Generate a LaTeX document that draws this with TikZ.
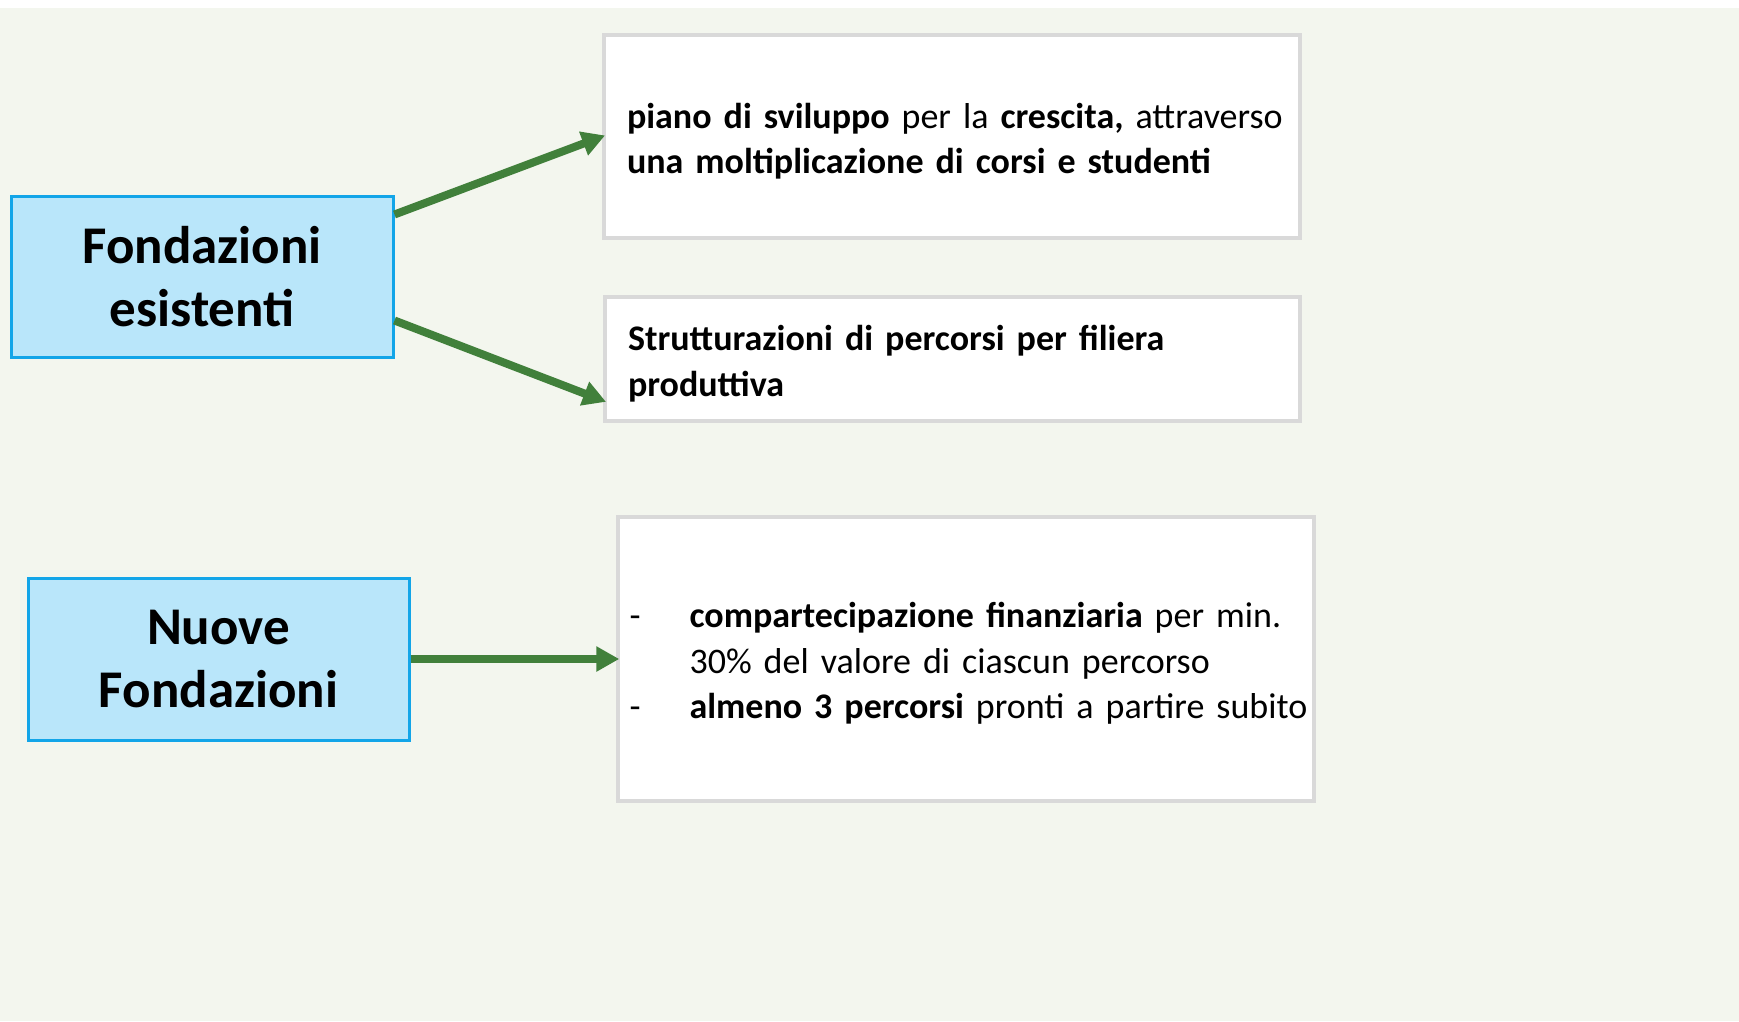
\documentclass[tikz,border=0pt]{standalone}
\usepackage{fontspec}
\setmainfont{Carlito}
\usepackage{tikz}
\usetikzlibrary{calc,arrows.meta}
\definecolor{sfondo}{HTML}{F3F6EE}
\definecolor{azzurro}{HTML}{B9E6FA}
\definecolor{bordoaz}{HTML}{12A5E8}
\definecolor{grigio}{HTML}{D9D9D9}
\definecolor{verde}{HTML}{41803B}
% hogere eerste regel, zodat de tekst iets lager in het vak staat
\newcommand\alza{\rule{0pt}{\dimexpr\fontcharht\font`l+10pt\relax}}
\tikzset{
  % box styles
  % blauw: de twee soorten fondazioni, wit: de uitleg ernaast
  fondbox/.style={rectangle,draw=bordoaz,fill=azzurro,line width=3pt,align=center,
    font=\fontsize{53}{63}\selectfont\bfseries,inner sep=0pt},
  uitleg/.style={rectangle,draw=grigio,fill=white,line width=3.5pt,align=left,
    font=\fontsize{36}{45.5}\selectfont,inner xsep=16pt,inner ysep=0pt,
    execute at begin node={\leftskip=#1\alza}},
  uitleg/.default=7pt,
  pijl/.style={draw=verde,line width=8pt,shorten >=-3pt,-{Triangle[length=23pt,width=24pt]}},
}
\begin{document}
\begin{tikzpicture}[x=1pt,y=-1pt]
  \useasboundingbox (0,0) rectangle (1739,1021);
  \fill[white] (0,0) rectangle (1739,8);
  \fill[sfondo] (0,8) rectangle (1739,1021);
  \node[fondbox,minimum width=382pt,minimum height=161pt] (fe) at (202,276.5)
    {Fondazioni\\esistenti};
  \node[fondbox,minimum width=381pt,minimum height=162pt] (nf) at (218.5,659)
    {Nuove\\Fondazioni};
  \node[uitleg,minimum width=696pt,minimum height=203pt,text width=664pt] (piano) at (952,136.5)
    {\textbf{piano di sviluppo} per la \textbf{crescita,} attraverso\\
     \textbf{una moltiplicazione di corsi e studenti}};
  \node[uitleg,minimum width=695pt,minimum height=124pt,text width=663pt] (strut) at (952.5,359)
    {\textbf{Strutturazioni di percorsi per filiera}\\\textbf{produttiva}};
  \node[uitleg=0pt,minimum width=696pt,minimum height=284pt,text width=673pt,inner xsep=10pt] (perc) at (966,659)
    {\begin{tabular}{@{}p{60pt}@{}l@{}}
     -\rule{0pt}{41.85pt} & \textbf{compartecipazione finanziaria} per min.\\
       & 30\% del valore di ciascun percorso\\
     - & \textbf{almeno 3 percorsi} pronti a partire subito
     \end{tabular}};
  \draw[pijl] ([yshift=-20pt]fe.north east) -- (piano.west);
  \draw[pijl] ([yshift=38pt]fe.south east) -- ([yshift=22pt]strut.south west);
  \draw[pijl] (nf.east) -- (perc.west);
\end{tikzpicture}
\end{document}
